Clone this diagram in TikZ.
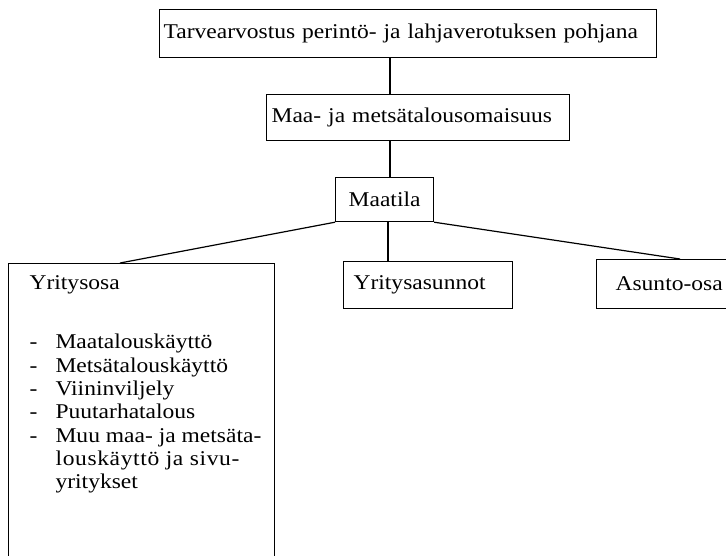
\documentclass[tikz,border=0pt]{standalone}
\usepackage{fontspec}
\setmainfont{Liberation Serif}[FakeStretch=1.12]
\begin{document}
\begin{tikzpicture}[x=1pt,y=-1pt,
  box/.style={draw, line width=1.2pt, anchor=north west, inner ysep=0pt,
    align=left, font=\fontsize{21}{23.5}\selectfont},
  conn/.style={line width=1.2pt}]
\useasboundingbox (0,0) rectangle (726,555);
\clip (0,0) rectangle (726,555);
\node[box, minimum width=497pt, minimum height=48pt, text width=489pt, inner xsep=4pt] (t) at (159,9)
  {Tarvearvostus perintö- ja lahjaverotuksen pohjana};
\node[box, minimum width=303pt, minimum height=46pt, text width=293pt, inner xsep=5pt] (mid) at (266,94)
  {Maa- ja metsätalousomaisuus};
\node[box, align=center, minimum width=98pt, minimum height=44pt] (m) at (335,177) {Maatila};
\node[box, minimum width=169pt, minimum height=47pt, text width=149pt, inner xsep=10pt] (ya) at (343,261)
  {Yritysasunnot};
\node[box, minimum width=160pt, minimum height=49pt, text width=122pt, inner xsep=19pt] (ao) at (596,259)
  {Asunto-osa};
\node[box, inner xsep=0pt, inner ysep=12pt] (yo) at (8,263)
  {\parbox[t][340pt][t]{266pt}{\fontsize{21}{23.3}\selectfont\leftskip=21pt
   Yritysosa\\[36pt]
   \makebox[26pt][l]{-}Maatalouskäyttö\\
   \makebox[26pt][l]{-}Metsätalouskäyttö\\
   \makebox[26pt][l]{-}Viininviljely\\
   \makebox[26pt][l]{-}Puutarhatalous\\
   \makebox[26pt][l]{-}Muu maa- ja metsäta-\\
   \hspace*{26pt}{\addfontfeature{LetterSpace=3}louskäyttö ja sivu-}\\
   \hspace*{26pt}yritykset}};
\coordinate (axis) at (390,0);
\coordinate (axis2) at (388,0);
\draw[conn] (axis |- t.south) -- (axis |- mid.north);
\draw[conn] (axis |- mid.south) -- (axis |- m.north);
\draw[conn] (axis2 |- m.south) -- (axis2 |- ya.north);
\draw[conn] (m.south west) -- ([xshift=112pt]yo.north west);
\draw[conn] (m.south east) -- ([xshift=84pt]ao.north west);
\end{tikzpicture}
\end{document}
